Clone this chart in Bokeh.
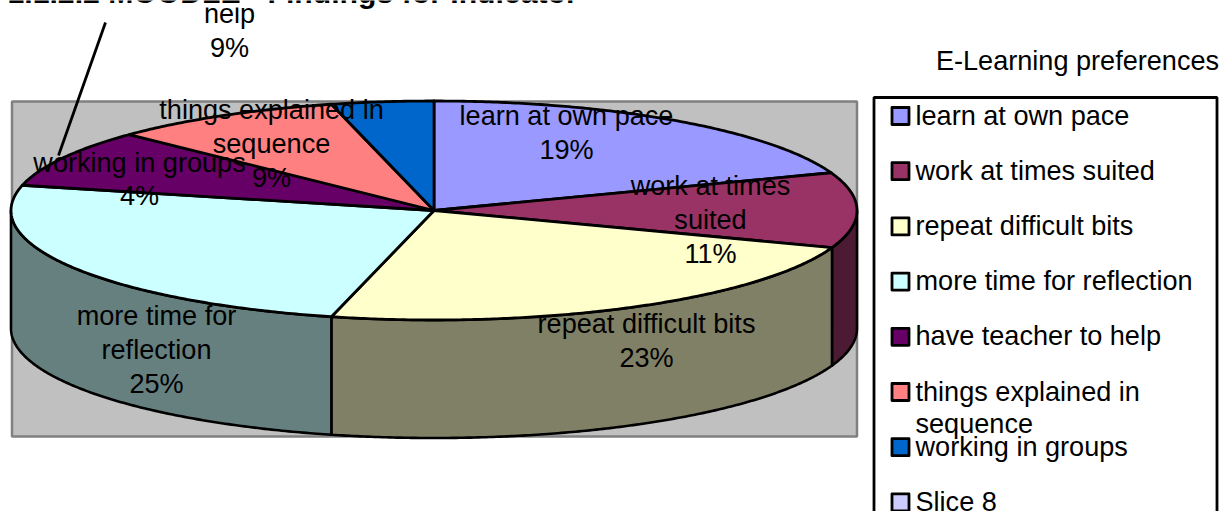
from math import sin, cos, pi
from bokeh.plotting import figure
from bokeh.embed import file_html
from bokeh.resources import INLINE
from bokeh.core.properties import value

# ---- data ----
categories = ["learn at own pace", "work at times suited", "repeat difficult bits",
              "more time for reflection", "have teacher to help",
              "things explained in sequence", "working in groups", "Slice 8"]
shares = [19.4, 11.1, 23.4, 24.8, 8.5, 8.9, 3.9, 0.0]
slice_lines = [["learn at own pace", "19%"],
               ["work at times", "suited", "11%"],
               ["repeat difficult bits", "23%"],
               ["more time for", "reflection", "25%"],
               ["have teacher to", "help", "9%"],
               ["things explained in", "sequence", "9%"],
               ["working in groups", "4%"]]
colors = ["#9999FF", "#993366", "#FFFFCC", "#CCFFFF", "#660066", "#FF8080", "#0066CC", "#CCCCFF"]
side_colors = ["#4D1A33", "#4D1A33", "#808066", "#668080"]
title_text = "1.1.2.2 MOODLE - Findings for Indicator"
legend_title = "E-Learning preferences"

# ---- layout (pixels of the window) ----
W, H = 1220, 511
CX, CY, RX, RY, DEPTH = 433.5, 210.0, 423.0, 109.5, 118.0
LABEL_POS = [(566, 115), (710, 185), (646, 323), (156, 315), (229, -21), (271, 109), (139, 161.5)]
LINE_H = 33.8
FONT = value("Liberation Sans")
FS = "27.1px"

p = figure(width=W, height=H, x_range=(0, W), y_range=(H, 0), toolbar_location=None,
           output_backend="svg", min_border=0, outline_line_color=None,
           margin=(0, 0, 0, 0))
p.axis.visible = False
p.grid.visible = False
p.background_fill_color = "white"
p.border_fill_color = "white"


def pt(deg, dy=0.0):
    a = deg * pi / 180
    return CX + RX * sin(a), CY - RY * cos(a) + dy


def arc(a0, a1, dy=0.0):
    n = max(2, int(abs(a1 - a0) * 2))
    return [pt(a0 + (a1 - a0) * i / n, dy) for i in range(n + 1)]


# plot-area wall
p.quad(left=[11.5], right=[856.5], top=[101], bottom=[436], fill_color="#C0C0C0",
       line_color="#808080", line_width=2.5)

# cumulative angles from the shares
edges = [0.0]
for s in shares:
    edges.append(edges[-1] + s * 3.6)

# rim: only the near half (90..270 degrees) is visible
for i in range(4):
    a0, a1 = max(edges[i], 90.0), min(edges[i + 1], 270.0)
    if a1 <= a0:
        continue
    top = arc(a0, a1)
    bot = arc(a1, a0, DEPTH)
    pts = top + bot
    p.patch([q[0] for q in pts], [q[1] for q in pts], fill_color=side_colors[i],
            line_color="black", line_width=2.6, line_join="round")

# top face
for i in range(7):
    pts = [(CX, CY)] + arc(edges[i], edges[i + 1])
    p.patch([q[0] for q in pts], [q[1] for q in pts], fill_color=colors[i],
            line_color="black", line_width=2.8, line_join="round")

# leader line for the "have teacher to help" label
p.line([105, 58], [22, 155], line_color="black", line_width=2.8)

# slice labels
xs, ys, ts = [], [], []
for (x, y), lines in zip(LABEL_POS, slice_lines):
    for k, t in enumerate(lines):
        xs.append(x)
        ys.append(y + k * LINE_H)
        ts.append(t)
p.text(xs, ys, text=ts, text_font=FONT, text_font_size=FS, text_color="black",
       text_align="center", text_baseline="middle")

# the title's white band hides the top of the label under it
p.quad(left=[0], right=[600], top=[-10], bottom=[7], fill_color="white", line_color=None)

# chart title, cut by the top of the image
p.text([7], [-8], text=[title_text], text_font=FONT, text_font_size="30.2px", text_font_style="bold",
       text_color="black", text_align="left", text_baseline="alphabetic")

# legend title
p.text([1077], [60], text=[legend_title], text_font=FONT, text_font_size=FS, text_color="black",
       text_align="center", text_baseline="middle")

# legend frame (runs off the bottom)
p.line([873.5, 873.5, 1216.5, 1216.5], [530, 97, 97, 530], line_color="black", line_width=2.8)

# legend entries
LEG_Y0, LEG_STEP = 115.5, 55.2
for i, name in enumerate(categories):
    y = LEG_Y0 + i * LEG_STEP
    p.quad(left=[891.5], right=[908.5], top=[y - 8.5], bottom=[y + 8.5], fill_color=colors[i],
           line_color="black", line_width=2.8, line_join="round")
    if name == "things explained in sequence":
        parts = ["things explained in", "sequence"]
    else:
        parts = [name]
    for k, t in enumerate(parts):
        p.text([915], [y - 1 + k * 32], text=[t], text_font=FONT, text_font_size=FS,
               text_color="black", text_align="left", text_baseline="middle")

open("out.html", "w").write(file_html(p, INLINE))
